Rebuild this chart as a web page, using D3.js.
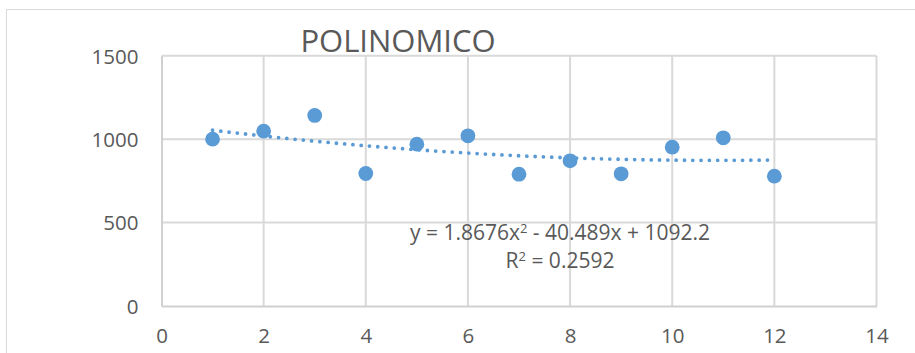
<!DOCTYPE html>
<html>
<head>
<meta charset="utf-8">
<script src="https://cdn.jsdelivr.net/npm/d3@7"></script>
<style>
  html, body { margin: 0; padding: 0; background: #fff; }
  svg { display: block; }
  text { font-family: "Open Sans", "Noto Sans", sans-serif; fill: #595959; }
</style>
</head>
<body>
<svg id="chart" width="915" height="353"></svg>
<script>
// Monthly observations (x = period, y = value)
const xValues = [1, 2, 3, 4, 5, 6, 7, 8, 9, 10, 11, 12];
const yValues = [1000, 1048, 1142, 794, 970, 1020, 790, 870, 792, 952, 1008, 778];

// Axis ticks
const xTicks = [0, 2, 4, 6, 8, 10, 12, 14];
const yTicks = [0, 500, 1000, 1500];

// Second-order polynomial trendline: y = a*x^2 + b*x + c
const trendCoef = [1.8676, -40.489, 1092.2];
const rSquared = 0.2592;
const chartTitle = "POLINOMICO";

const svg = d3.select("#chart");
const W = 915, H = 353;
const plot = { left: 161.5, right: 876.5, top: 55.7, bottom: 306 };

const x = d3.scaleLinear().domain([0, 14]).range([plot.left, plot.right]);
const y = d3.scaleLinear().domain([0, 1500]).range([plot.bottom, plot.top]);

// Chart area outline
svg.append("rect")
  .attr("x", 6.5).attr("y", 9.5)
  .attr("width", W).attr("height", H)
  .attr("fill", "#fff")
  .attr("stroke", "#D9D9D9").attr("stroke-width", 1);

// Gridlines
const grid = svg.append("g").attr("stroke", "#D9D9D9").attr("stroke-width", 2);
grid.selectAll(".gx").data(xTicks.filter(d => d > 0)).join("line")
  .attr("x1", d => x(d)).attr("x2", d => x(d))
  .attr("y1", plot.top).attr("y2", plot.bottom);
grid.selectAll(".gy").data(yTicks.filter(d => d > 0)).join("line")
  .attr("x1", plot.left).attr("x2", plot.right)
  .attr("y1", d => y(d)).attr("y2", d => y(d));

// Axes
const xAxis = d3.axisBottom(x).tickValues(xTicks).tickFormat(d3.format("d"))
  .tickSize(0).tickPadding(22);
const yAxis = d3.axisLeft(y).tickValues(yTicks).tickFormat(d3.format("d"))
  .tickSize(0).tickPadding(23);

const gx = svg.append("g").attr("transform", `translate(0,${plot.bottom})`).call(xAxis);
const gy = svg.append("g").attr("transform", `translate(${plot.left},0)`).call(yAxis);
[gx, gy].forEach(g => {
  g.select(".domain").attr("stroke", "#D0D0D0").attr("stroke-width", 2);
  g.selectAll("text")
    .attr("fill", "#595959")
    .style("font-family", '"Open Sans", "Noto Sans", sans-serif')
    .style("font-size", "20.5px");
});
gy.selectAll("text").attr("dy", "0.36em");
gx.selectAll("text").attr("dy", "0.71em");

// Trendline sampled from the fitted polynomial
const poly = t => trendCoef[0] * t * t + trendCoef[1] * t + trendCoef[2];
const trendPts = d3.range(0, 221).map(i => {
  const t = d3.min(xValues) + (d3.max(xValues) - d3.min(xValues)) * i / 220;
  return [t, poly(t)];
});
svg.append("path")
  .datum(trendPts)
  .attr("fill", "none")
  .attr("stroke", "#5B9BD5")
  .attr("stroke-width", 3.8)
  .attr("stroke-linecap", "round")
  .attr("stroke-dasharray", "0 8.3")
  .attr("d", d3.line().x(d => x(d[0])).y(d => y(d[1])));

// Data points
svg.append("g").selectAll("circle")
  .data(xValues.map((v, i) => [v, yValues[i]]))
  .join("circle")
  .attr("cx", d => x(d[0]))
  .attr("cy", d => y(d[1]))
  .attr("r", 7.4)
  .attr("fill", "#5B9BD5");

// Title
svg.append("text")
  .attr("x", 398).attr("y", 52)
  .attr("text-anchor", "middle")
  .style("font-size", "31px")
  .text(chartTitle);

// Trendline equation label
const eq = svg.append("text")
  .attr("x", 560).attr("y", 240)
  .attr("text-anchor", "middle")
  .style("font-size", "21px");
eq.append("tspan").text(`y = ${trendCoef[0]}x`);
eq.append("tspan").attr("dy", -7).style("font-size", "13px").text("2");
eq.append("tspan").attr("dy", 7)
  .text(` - ${Math.abs(trendCoef[1])}x + ${trendCoef[2]}`);

const r2 = svg.append("text")
  .attr("x", 560).attr("y", 268)
  .attr("text-anchor", "middle")
  .style("font-size", "21px");
r2.append("tspan").text("R");
r2.append("tspan").attr("dy", -7).style("font-size", "13px").text("2");
r2.append("tspan").attr("dy", 7).text(` = ${rSquared}`);
</script>
</body>
</html>
